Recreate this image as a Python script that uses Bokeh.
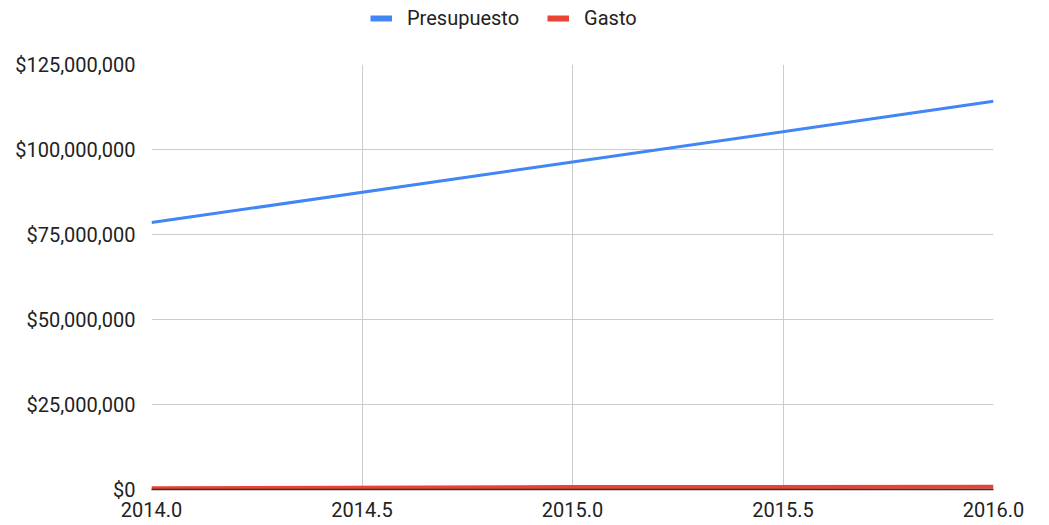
from bokeh.plotting import figure
from bokeh.layouts import column
from bokeh.models import (ColumnDataSource, FixedTicker, NumeralTickFormatter,
                          Range1d, Legend, LegendItem)
from bokeh.embed import file_html
from bokeh.resources import INLINE

# Data
years = [2014, 2015, 2016]
presupuesto = [78500000, 96300000, 114200000]
gasto = [400000, 700000, 800000]
x_ticks = [2014.0, 2014.5, 2015.0, 2015.5, 2016.0]
y_ticks = [0, 25000000, 50000000, 75000000, 100000000, 125000000]
series_names = ["Presupuesto", "Gasto"]

BLUE = "#4285F4"
RED = "#EA4335"
FONT = "Roboto"

src = ColumnDataSource(dict(year=years, presupuesto=presupuesto, gasto=gasto))

W = 1041
LH = 50          # legend strip height
H = 521 - LH     # main figure height
TOP = 64 - LH    # frame top inside main figure
BOT = 489 - LH   # frame bottom inside main figure

# ---- legend strip ----
lg = figure(width=W, height=LH, output_backend="svg", toolbar_location=None,
            x_range=Range1d(0, 1), y_range=Range1d(0, 1),
            x_axis_type=None, y_axis_type=None,
            min_border_left=0, min_border_right=0, min_border_top=0, min_border_bottom=0)
lg.outline_line_color = None
lg.grid.visible = False
lg.border_fill_color = None
lg.background_fill_color = None
nan = float("nan")
r1 = lg.line([nan], [nan], color=BLUE, line_width=6)
r2 = lg.line([nan], [nan], color=RED, line_width=6)
legend = Legend(items=[LegendItem(label=series_names[0], renderers=[r1]),
                       LegendItem(label=series_names[1], renderers=[r2])],
                orientation="horizontal", location=(219, LH - 30),
                padding=0, margin=0, spacing=28, glyph_width=22,
                label_standoff=15, label_text_font=FONT,
                label_text_font_size="20px", label_text_color="#222222",
                border_line_color=None, background_fill_alpha=0)
lg.add_layout(legend, "center")

# ---- main chart ----
p = figure(width=W, height=H, output_backend="svg", toolbar_location=None,
           x_range=Range1d(2014, 2016), y_range=Range1d(0, 125000000),
           min_border_left=151, min_border_right=W - 993,
           min_border_top=TOP, min_border_bottom=H - BOT)
p.outline_line_color = None
p.background_fill_color = "white"
p.border_fill_color = "white"

p.xaxis.ticker = FixedTicker(ticks=x_ticks)
p.yaxis.ticker = FixedTicker(ticks=y_ticks)
p.xaxis.formatter = NumeralTickFormatter(format="0.0")
p.yaxis.formatter = NumeralTickFormatter(format="$0,0")

for ax in (p.xaxis, p.yaxis):
    ax.major_tick_line_color = None
    ax.minor_tick_line_color = None
    ax.major_label_text_font = FONT
    ax.major_label_text_font_size = "20px"
    ax.major_label_text_color = "#222222"
p.yaxis.axis_line_color = None
p.xaxis.axis_line_color = "#333333"
p.xaxis.axis_line_width = 1.5
p.yaxis.major_label_standoff = 10
p.xaxis.major_label_standoff = 6

p.grid.grid_line_color = "#cccccc"
p.grid.grid_line_width = 1

p.line("year", "presupuesto", source=src, color=BLUE, line_width=3)
p.line("year", "gasto", source=src, color=RED, line_width=4)

layout = column(lg, p, spacing=0)
open("out.html", "w").write(file_html(layout, INLINE))
